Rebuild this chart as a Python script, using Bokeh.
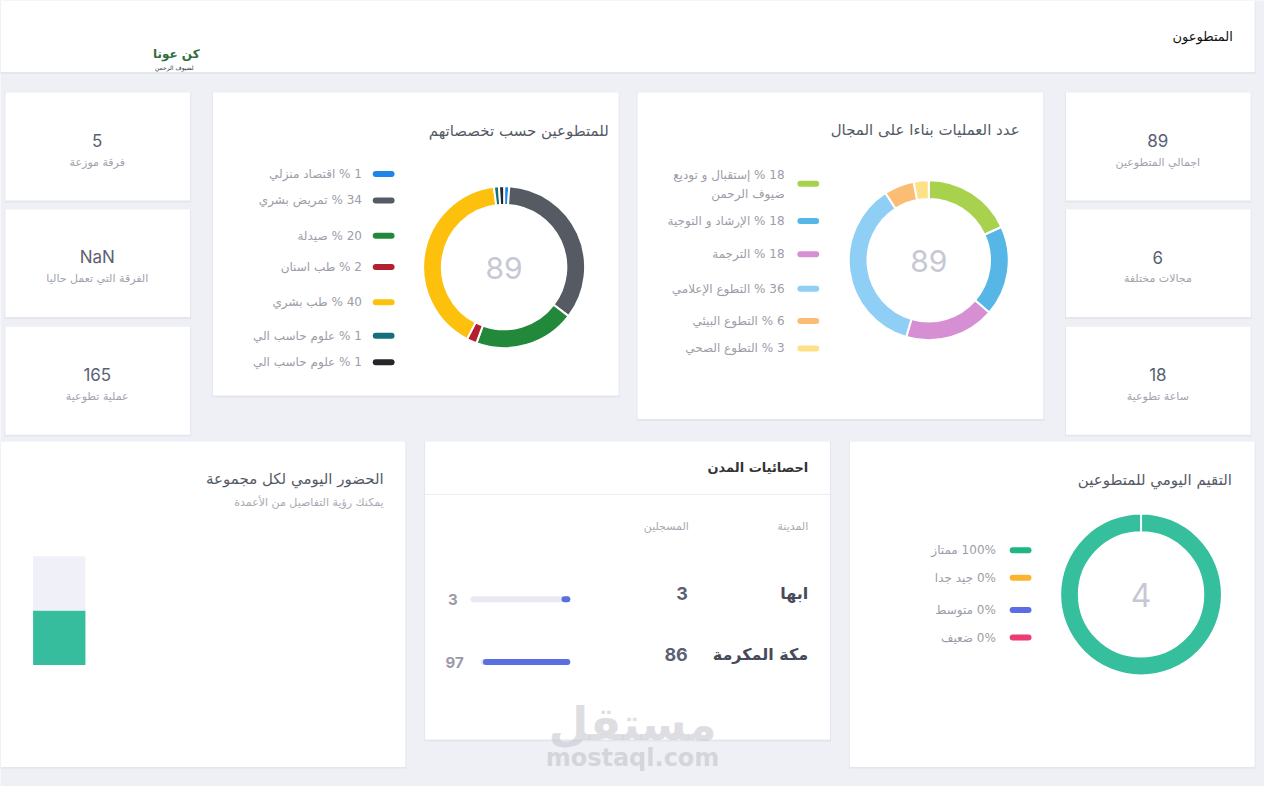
import math
from bokeh.plotting import figure
from bokeh.models import Range1d, ColumnDataSource
from bokeh.core.properties import value
from bokeh.embed import file_html
from bokeh.resources import INLINE

# ---------------- data ----------------
page_title = "المتطوعون"
logo_main = "كن عونا"
logo_sub = "لضيوف الرحمن"

left_values = ["5", "NaN", "165"]
left_labels = ["فرقة موزعة", "الفرقة التي تعمل حاليا", "عملية تطوعية"]
right_values = ["89", "6", "18"]
right_labels = ["اجمالي المتطوعين", "مجالات مختلفة", "ساعة تطوعية"]

spec_title = "للمتطوعين حسب تخصصاتهم"
spec_names = ["اقتصاد منزلي", "تمريض بشري", "صيدلة", "طب اسنان", "طب بشري", "علوم حاسب الي", "علوم حاسب الي"]
spec_pct = [1, 34, 20, 2, 40, 1, 1]
spec_colors = ["#1e86e8", "#555a63", "#23893a", "#b3202f", "#fdc00c", "#16707b", "#25272b"]
spec_total = "89"

field_title = "عدد العمليات بناءا على المجال"
field_names = ["إستقبال و توديع|ضيوف الرحمن", "الإرشاد و التوجية", "الترجمة", "التطوع الإعلامي", "التطوع البيئي", "التطوع الصحي"]
field_pct = [18, 18, 18, 36, 6, 3]
field_colors = ["#a8d24e", "#56b6e6", "#d68fd3", "#8fcff6", "#fbbd74", "#fde087"]
field_total = "89"

att_title = "الحضور اليومي لكل مجموعة"
att_sub = "يمكنك رؤية التفاصيل من الأعمدة"
att_present = [1]
att_absent = [1]

city_title = "احصائيات المدن"
city_head = ["المدينة", "المسجلين"]
cities = ["ابها", "مكة المكرمة"]
city_registered = [3, 86]
city_pct = [3, 97]

rate_title = "التقيم اليومي للمتطوعين"
rate_names = ["ممتاز", "جيد جدا", "متوسط", "ضعيف"]
rate_pct = [100, 0, 0, 0]
rate_colors = ["#1fb584", "#fbb52c", "#5b6de6", "#ec3d72"]
rate_total = "4"

# ---------------- style ----------------
BG = "#eff0f6"
CARD = "#ffffff"
AR = "DejaVu Sans"
NUM = "Inter"

p = figure(width=1264, height=786, x_range=Range1d(0, 1280), y_range=Range1d(802, 0),
           output_backend="svg", toolbar_location=None, min_border=0)
p.axis.visible = False
p.grid.visible = False
p.outline_line_color = None
p.background_fill_color = BG
p.border_fill_color = BG


def rtl(s):
    return "\u202b" + s + "\u202c"


def card(l, r, t, b):
    p.quad(left=[l - 1], right=[r + 1], top=[t], bottom=[b + 2], fill_color="#e4e6ee", line_color=None)
    p.quad(left=[l], right=[r], top=[t], bottom=[b], fill_color=CARD, line_color=None)


def label(x, y, s, size, color, align="right", font=AR, style="normal", alpha=1.0):
    p.text(x=[x], y=[y], text=[s], text_font=value(font), text_font_size=f"{size}px",
           text_color=color, text_align=align, text_baseline="middle",
           text_font_style=style, text_alpha=alpha)


def donut(cx, cy, r0, r1, vals, colors):
    tot = float(sum(vals))
    starts, ends = [], []
    cum = 0.0
    for v in vals:
        starts.append(math.pi / 2 - 2 * math.pi * cum / tot)
        cum += v
        ends.append(math.pi / 2 - 2 * math.pi * cum / tot)
    n = len(vals)
    src = ColumnDataSource(dict(x=[cx] * n, y=[cy] * n, s=starts, e=ends, c=colors))
    p.annular_wedge(x="x", y="y", inner_radius=r0, outer_radius=r1, start_angle="s",
                    end_angle="e", direction="clock", fill_color="c", line_color="white",
                    line_width=2, source=src)


def swatches(x0, x1, ys, colors):
    p.segment(x0=[x0] * len(ys), y0=ys, x1=[x1] * len(ys), y1=ys, line_color=colors,
              line_width=6, line_cap="round")


# ---------------- header ----------------
card(0, 1270, 0, 73)
label(1248, 37, page_title, 13, "#111111")
label(178, 55, logo_main, 12, "#2f6e3e", align="center", style="bold")
label(176, 68, logo_sub, 6, "#333333", align="center")

# ---------------- stat cards ----------------
tops = [94, 213, 333]
for i, t in enumerate(tops):
    b = t + 110
    card(5, 192, t, b)
    label(98, t + 49, left_values[i], 17, "#5a5f73", align="center", font=NUM)
    label(98, t + 71, left_labels[i], 11, "#a2a3ad", align="center")
    card(1079, 1266, t, b)
    label(1172, t + 49, right_values[i], 17, "#5a5f73", align="center", font=NUM)
    label(1172, t + 71, right_labels[i], 11, "#a2a3ad", align="center")

# ---------------- specialties donut ----------------
card(215, 626, 94, 403)
label(616, 133, spec_title, 15, "#555a66")
donut(510, 272, 63, 82, spec_pct, spec_colors)
label(510, 273, spec_total, 30, "#c6c8d4", align="center", font=NUM)
spec_ys = [177, 204, 240, 272, 308, 342, 369]
swatches(380, 396, spec_ys, spec_colors)
for y, nm, pc in zip(spec_ys, spec_names, spec_pct):
    label(366, y, rtl(f"{pc} % {nm}"), 12, "#9c9da8")

# ---------------- fields donut ----------------
card(645, 1056, 94, 427)
label(1032, 132, field_title, 15, "#555a66")
donut(940, 265, 62, 81, field_pct, field_colors)
label(940, 266, field_total, 30, "#c6c8d4", align="center", font=NUM)
field_ys = [187, 225, 259, 294, 327, 355]
swatches(810, 826, field_ys, field_colors)
for y, nm, pc in zip(field_ys, field_names, field_pct):
    parts = nm.split("|")
    if len(parts) == 1:
        label(794, y, rtl(f"{pc} % {parts[0]}"), 12, "#9c9da8")
    else:
        label(794, y - 9, rtl(f"{pc} % {parts[0]}"), 12, "#9c9da8")
        label(794, y + 10, parts[1], 12, "#9c9da8")

# ---------------- attendance bar ----------------
card(0, 410, 450, 782)
label(388, 488, att_title, 15, "#555a66")
label(388, 512, att_sub, 11, "#a9aab3")
unit = 55.5
base = 678
p.vbar(x=[59.5], width=53, bottom=[base], top=[base - att_present[0] * unit],
       fill_color="#36bd9d", line_color=None)
p.vbar(x=[59.5], width=53, bottom=[base - att_present[0] * unit],
       top=[base - (att_present[0] + att_absent[0]) * unit], fill_color="#f0f1f8", line_color=None)

# ---------------- cities table ----------------
card(430, 840, 450, 754)
label(818, 476, city_title, 13, "#333333", style="bold")
p.segment(x0=[430], y0=[504], x1=[840], y1=[504], line_color="#ececf2", line_width=1)
label(818, 537, city_head[0], 11, "#a9aab3")
label(697, 537, city_head[1], 11, "#a9aab3")
row_ys = [605, 667]
bar_ys = [611, 675]
track_left = [479, 489]
track_right = 574
for i in range(len(cities)):
    label(818, row_ys[i], cities[i], 16, "#474a59", style="bold")
    label(696, row_ys[i], str(city_registered[i]), 18, "#5a5f73", font=NUM, style="bold")
    p.segment(x0=[track_left[i]], y0=[bar_ys[i]], x1=[track_right], y1=[bar_ys[i]],
              line_color="#e9eaf1", line_width=6, line_cap="round")
    w = (track_right - track_left[i]) * city_pct[i] / 100.0
    p.segment(x0=[track_right - w], y0=[bar_ys[i]], x1=[track_right], y1=[bar_ys[i]],
              line_color="#5b6fe3", line_width=6, line_cap="round")
    label(469 if i else 463, bar_ys[i], str(city_pct[i]), 15, "#9a9ba8", font=NUM, style="bold")

# ---------------- rating donut ----------------
card(860, 1270, 450, 782)
label(1247, 489, rate_title, 15, "#555a66")
donut(1155, 606, 63, 82, rate_pct, ["#35bf9c"] * len(rate_pct))
label(1155, 607, rate_total, 32, "#c6c8d4", align="center", font=NUM)
rate_ys = [561, 589, 622, 650]
swatches(1025, 1041, rate_ys, rate_colors)
for y, nm, pc in zip(rate_ys, rate_names, rate_pct):
    label(1008, y, rtl(f"{pc}% {nm}"), 12, "#9c9da8")

# ---------------- watermark ----------------
label(640, 738, "مستقل", 46, "#c8c9cf", align="center", style="bold", alpha=0.6)
label(640, 773, "mostaql.com", 24, "#c8c9cf", align="center", font="DejaVu Sans", style="bold", alpha=0.7)

open("out.html", "w").write(file_html(p, INLINE))
